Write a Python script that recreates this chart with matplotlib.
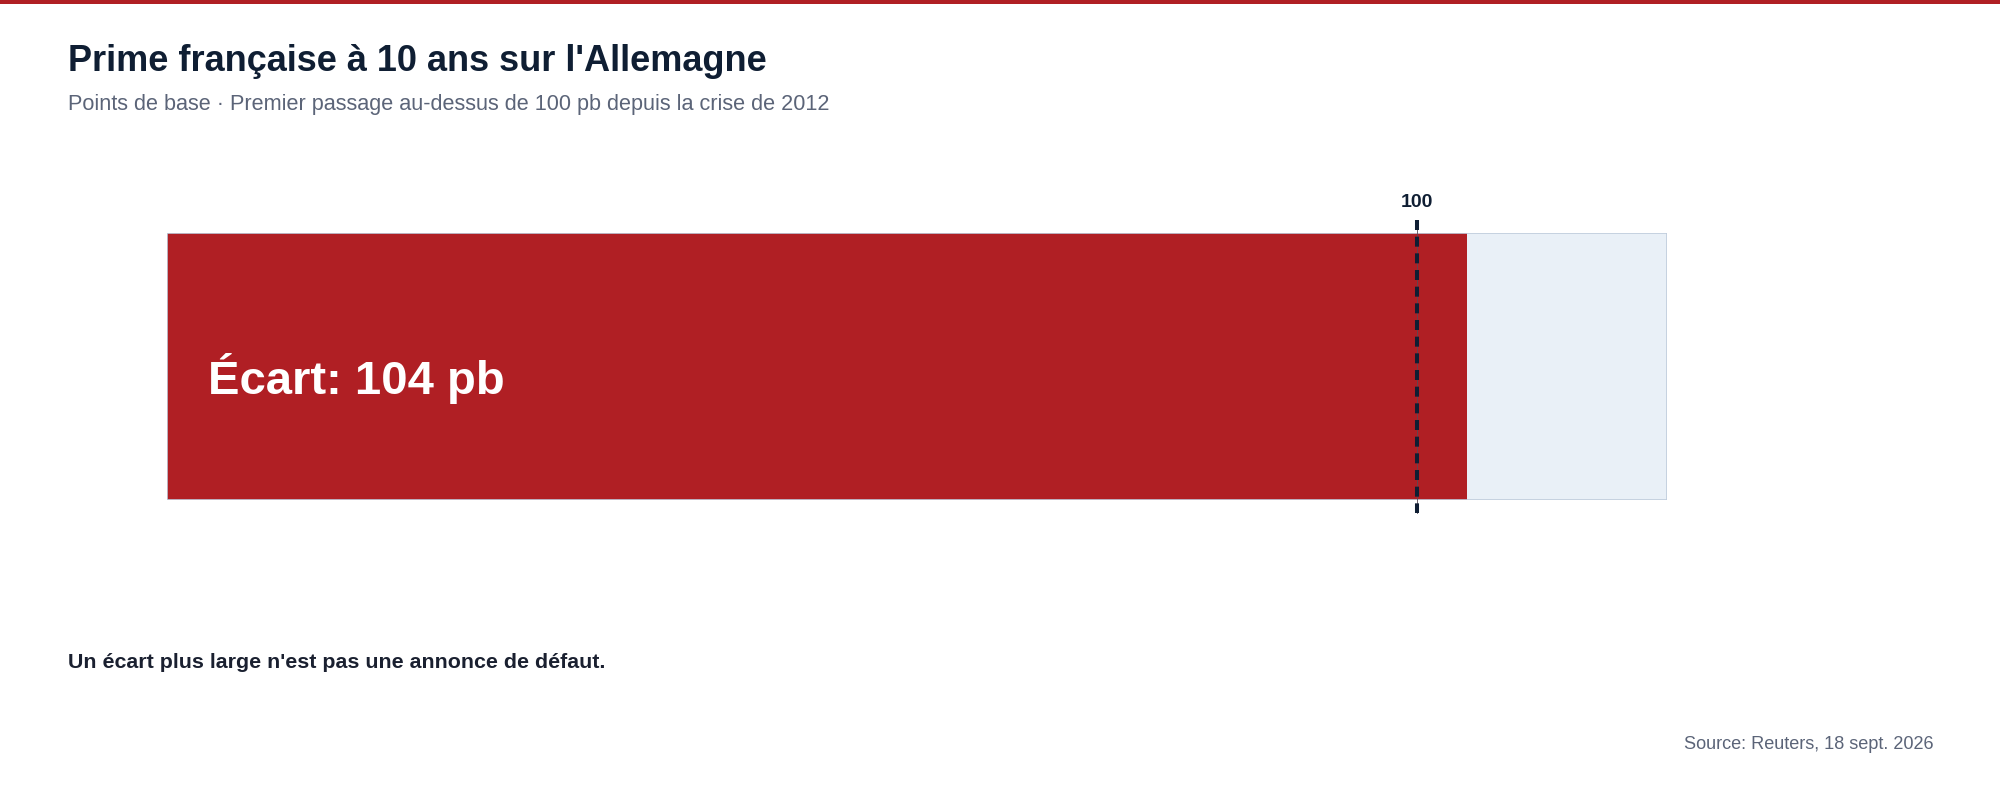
import matplotlib.pyplot as plt
from matplotlib.patches import Rectangle

plt.rcParams["font.family"] = ["Liberation Sans", "DejaVu Sans"]
plt.rcParams["lines.scale_dashes"] = False

# Data
spread = [104]
threshold = [100]
scale_max = [120]
bar_label = "Écart: 104 pb"
threshold_label = "100"

title = "Prime française à 10 ans sur l'Allemagne"
subtitle = "Points de base · Premier passage au-dessus de 100 pb depuis la crise de 2012"
footnote = "Un écart plus large n'est pas une annonce de défaut."
source = "Source: Reuters, 18 sept. 2026"

RED = "#B01F24"
NAVY = "#0F1E33"
TRACK = "#E9F0F7"
TRACK_EDGE = "#BFCCDC"
GREY = "#5B6478"

W, H = 2000, 800
fig = plt.figure(figsize=(20, 8), dpi=100)
fig.patch.set_facecolor("white")

# Red strip at the top
fig.add_artist(Rectangle((0, 1 - 4 / H), 1, 4 / H, transform=fig.transFigure,
                         facecolor=RED, edgecolor="none"))

# Bar axes: exactly the track area
left, right, top, bottom = 167, 1667, 233, 500
ax = fig.add_axes([left / W, 1 - bottom / H, (right - left) / W, (bottom - top) / H])
ax.set_xlim(0, scale_max[0])
ax.set_ylim(0, 1)
ax.axis("off")

ax.barh([0.5], scale_max, height=1, left=0, color=TRACK, edgecolor="none", zorder=1)
ax.barh([0.5], spread, height=1, left=0, color=RED, edgecolor="none", zorder=2)
# track outline on top of everything
ax.barh([0.5], scale_max, height=1, left=0, facecolor="none", edgecolor=TRACK_EDGE,
        linewidth=1.2, zorder=3)

# threshold marker: thin guide + thick dashes (dash lengths in points), top to bottom
ax.plot([threshold[0], threshold[0]], [1.049, -0.049], color="#5A4A55", lw=0.6,
        clip_on=False, zorder=4)
ax.plot([threshold[0], threshold[0]], [1.049, -0.049], color=NAVY, lw=2.9,
        linestyle=(0, (7.2, 4.8)), dash_capstyle="butt", clip_on=False, zorder=5)
ax.text(threshold[0], 1.097, threshold_label, ha="center", va="baseline",
        fontsize=14, fontweight="bold", color=NAVY)

ax.text(3.3, 0.397, bar_label, ha="left", va="baseline", fontsize=34,
        fontweight="bold", color="white", zorder=6)

# Header / footer text
fig.text(68 / W, 1 - 71 / H, title, ha="left", va="baseline", fontsize=26,
         fontweight="bold", color=NAVY)
fig.text(68 / W, 1 - 110 / H, subtitle, ha="left", va="baseline", fontsize=15.6,
         color=GREY)
fig.text(68 / W, 1 - 668 / H, footnote, ha="left", va="baseline", fontsize=15.4,
         fontweight="bold", color="#1A2030")
fig.text(1934 / W, 1 - 749 / H, source, ha="right", va="baseline", fontsize=13.1,
         color=GREY)

fig.savefig("out.png", dpi=100)
